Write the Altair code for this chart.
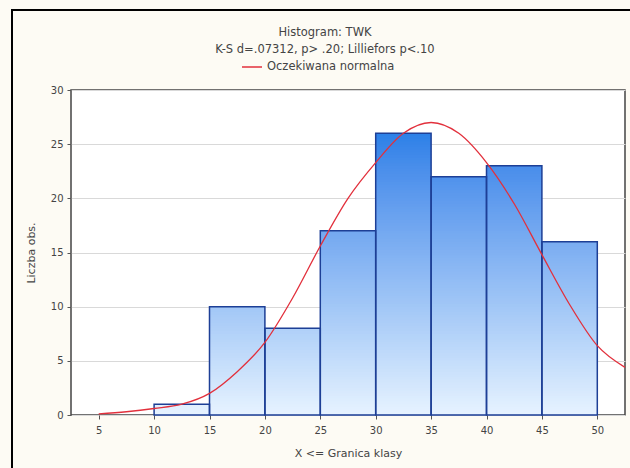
import altair as alt
import pandas as pd

# Histogram bins (lower edge, upper edge) and counts
bin_start = [10, 15, 20, 25, 30, 35, 40, 45]
bin_end = [15, 20, 25, 30, 35, 40, 45, 50]
counts = [1, 10, 8, 17, 26, 22, 23, 16]

# Expected normal curve
curve_x = [5, 7.5, 10, 12.5, 15, 17.5, 20, 22.5, 25, 27.5, 30, 32.5, 35,
           37.5, 40, 42.5, 45, 47.5, 50, 52.5]
curve_y = [0.1, 0.3, 0.6, 1.0, 2.0, 4.0, 6.7, 10.8, 15.6, 20.0, 23.3, 26.0,
           27.0, 26.0, 23.3, 19.5, 14.8, 10.2, 6.4, 4.4]

x_ticks = [5, 10, 15, 20, 25, 30, 35, 40, 45, 50]
y_ticks = [0, 5, 10, 15, 20, 25, 30]

title_text = "Histogram: TWK"
subtitle_text = "K-S d=.07312, p> .20; Lilliefors p<.10"
legend_label = "Oczekiwana normalna"

W, H = 554, 325
FONT = "DejaVu Sans"

bars = pd.DataFrame({"start": bin_start, "end": bin_end, "count": counts})
curve = pd.DataFrame({"x": curve_x, "y": curve_y,
                      "series": [legend_label] * len(curve_x)})

xscale = alt.Scale(domain=[2.5, 52.5], nice=False, zero=False)
yscale = alt.Scale(domain=[0, 30], nice=False)

xaxis = alt.Axis(values=x_ticks, grid=False, title="X <= Granica klasy",
                 tickSize=4, labelPadding=6, titlePadding=12,
                 labelFontSize=10, titleFontSize=11, titleFontWeight="normal",
                 labelColor="#444", titleColor="#444", tickColor="#555",
                 domain=False, labelFont=FONT, titleFont=FONT)
yaxis = alt.Axis(values=y_ticks, grid=True, gridColor="#d9d9d9",
                 title="Liczba obs.", tickSize=4, labelPadding=4,
                 titlePadding=14, labelFontSize=10, titleFontSize=11,
                 titleFontWeight="normal", labelColor="#444", titleColor="#444",
                 tickColor="#555", domain=False, labelFont=FONT, titleFont=FONT)

base = alt.Chart(bars)

frame = base.mark_rect(filled=False, stroke="#000000", strokeWidth=2).encode(
    x=alt.value(-59), x2=alt.value(W + 200), y=alt.value(-80), y2=alt.value(H + 200)
).transform_filter("datum.start == 10")

bands = base.transform_calculate(
    steps="sequence(0, datum.count, 0.25)"
).transform_flatten(["steps"]).transform_calculate(
    y0="datum.steps", y1="min(datum.steps + 0.35, datum.count)"
).mark_rect(strokeWidth=0).encode(
    x=alt.X("start:Q", scale=xscale, axis=xaxis),
    x2="end:Q",
    y=alt.Y("y0:Q", scale=yscale, axis=yaxis),
    y2="y1:Q",
    color=alt.Color("y0:Q", scale=alt.Scale(domain=[0, 27],
                    range=["#e6f2ff", "#1c7be6"]), legend=None),
)

outlines = base.mark_rect(filled=False, stroke="#1d3f96", strokeWidth=1.5).encode(
    x=alt.X("start:Q", scale=xscale, axis=xaxis),
    x2="end:Q",
    y=alt.Y("count:Q", scale=yscale, axis=yaxis),
    y2=alt.datum(0),
)

line = alt.Chart(curve).mark_line(strokeWidth=1.3, interpolate="monotone").encode(
    x=alt.X("x:Q", scale=xscale, axis=xaxis),
    y=alt.Y("y:Q", scale=yscale, axis=yaxis),
    color=alt.Color("series:N", scale=alt.Scale(range=["#e2303c"]),
                    legend=alt.Legend(title=None, orient="none", legendX=170,
                                      legendY=-34, symbolType="stroke",
                                      symbolSize=400, symbolStrokeWidth=1.5,
                                      labelFontSize=11.5, labelColor="#444",
                                      labelFont=FONT)),
)

chart = alt.layer(frame, bands, outlines, line).resolve_scale(
    color="independent"
).properties(
    width=W, height=H,
    autosize=alt.AutoSizeParams(type="none"),
    padding={"left": 71, "top": 90, "right": 5, "bottom": 53},
    background="#fdfbf4",
    title=alt.Title(text=title_text, subtitle=subtitle_text, anchor="middle",
                    frame="group", dx=-23, offset=-46, fontSize=11.5,
                    subtitleFontSize=11.5, fontWeight="normal", color="#444",
                    subtitleColor="#444", font=FONT, subtitleFont=FONT,
                    subtitlePadding=5),
).configure_view(
    fill="#ffffff", stroke="#444444", strokeWidth=1.5
)

chart.save("out.html", embed_options={"renderer": "svg", "actions": False})
